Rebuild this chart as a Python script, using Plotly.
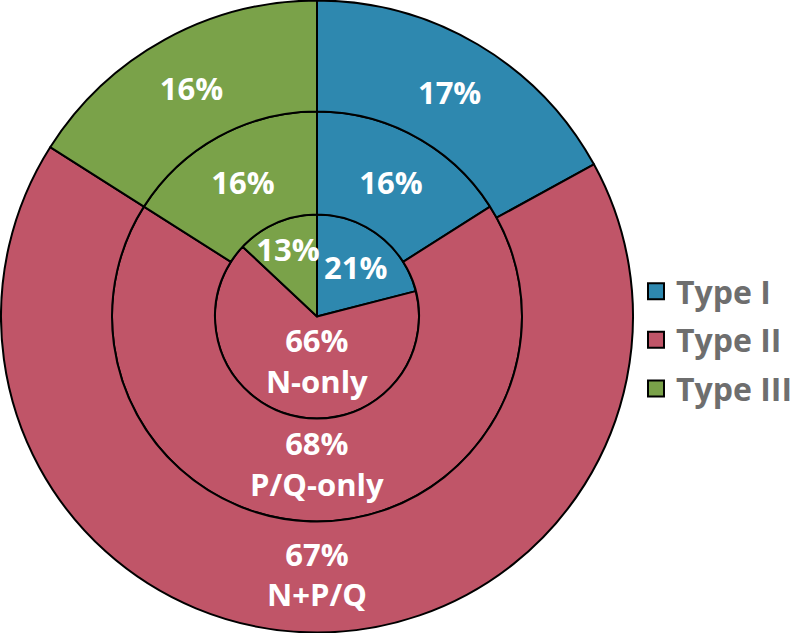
import plotly.graph_objects as go

# Data
types = ['Type I', 'Type II', 'Type III']
n_only = [21, 66, 13]
pq_only = [16, 68, 16]
n_pq = [17, 67, 16]
ring_names = ['N-only', 'P/Q-only', 'N+P/Q']

colors = ['#2E88AF', '#C05568', '#7AA249']
W, H = 800, 633
cx, cy = 317, 316.5
radii = [102, 205, 316]


def ring_domain(r):
    return dict(x=[(cx - r) / W, (cx + r) / W], y=[(cy - r) / H, (cy + r) / H])


def slice_text(values, name):
    # main slice (Type II) also carries the ring name
    return [f'{v}%' if t != 'Type II' else f'{v}%<br>{name}' for v, t in zip(values, types)]


fig = go.Figure(layout=go.Layout(width=W, height=H))

rings = [n_only, pq_only, n_pq]
holes = [0, radii[0] / radii[1], radii[1] / radii[2]]

for values, name, r, hole in zip(rings, ring_names, radii, holes):
    fig.add_trace(go.Pie(
        labels=types, values=values, text=slice_text(values, name),
        textinfo='text', textposition='inside', insidetextorientation='horizontal',
        sort=False, direction='clockwise', rotation=0, hole=hole,
        domain=ring_domain(r),
        marker=dict(colors=colors, line=dict(color='black', width=2)),
        textfont=dict(family='Open Sans', size=31, color='white', weight='bold'),
        hoverinfo='label+percent+name', name=name, showlegend=False,
    ))

# Legend entries with bigger square swatches
for t, c in zip(types, colors):
    fig.add_trace(go.Scatter(
        x=[None], y=[None], mode='markers', name=t, legendgroup=t,
        marker=dict(symbol='square', size=22, color=c, line=dict(color='black', width=2)),
    ))

fig.update_layout(
    margin=dict(l=0, r=0, t=0, b=0),
    paper_bgcolor='white',
    plot_bgcolor='white',
    xaxis=dict(visible=False),
    yaxis=dict(visible=False),
    showlegend=True,
    legend=dict(x=0.795, y=0.463, xanchor='left', yanchor='middle',
                font=dict(family='Open Sans', size=32, color='#6E6E6E', weight='bold'),
                traceorder='grouped', tracegroupgap=4, itemwidth=30),
    # keep every slice label at full size, even in the narrow slices
    uniformtext=dict(minsize=31, mode='show'),
)

# Page body margin off so the chart sits at the window's top-left corner
fig.write_html('out.html', config={'displayModeBar': False},
               post_script="document.body.style.margin='0';")
